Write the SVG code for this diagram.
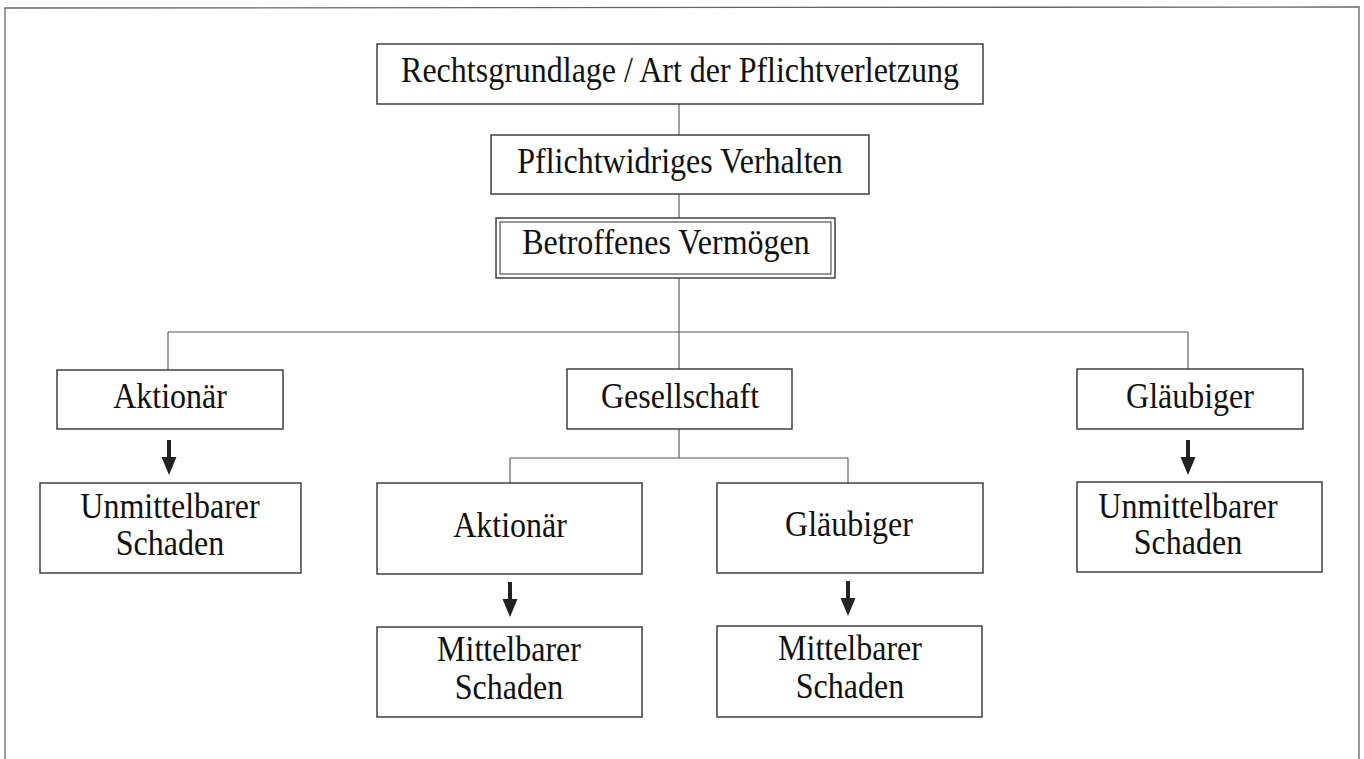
<svg xmlns="http://www.w3.org/2000/svg" width="1364" height="759" viewBox="0 0 1364 759">
<style>
.box{fill:#fff;stroke:#333;stroke-width:1.4}
.t{font-family:"Liberation Serif","Times New Roman",serif;font-size:32px;fill:#111;text-anchor:middle}
.ln{stroke:#555;stroke-width:1.1;fill:none}
.fr{stroke:#666;stroke-width:1.3;fill:none}
</style>
<defs>
<g id="arr"><rect x="-2" y="0" width="4" height="20" fill="#222"/><path d="M-7.5,17 L7.5,17 L0,35 Z" fill="#222"/></g>
</defs>
<rect width="1364" height="759" fill="#fff"/>
<path class="fr" d="M5,759 L5,8 L1359,7 L1359,759"/>
<g id="connectors">
<path class="ln" d="M679,104 V135 M679,194 V218 M679,278 V332 M168,332 H1188 M168,332 V370 M679,332 V369 M1188,332 V369 M679,429 V458 M510,458 H848 M510,458 V483 M848,458 V483"/>
<use href="#arr" x="169" y="440"/>
<use href="#arr" x="1188" y="440"/>
<use href="#arr" x="510" y="582"/>
<use href="#arr" x="848" y="581"/>
</g>
<g id="n-rechtsgrundlage"><rect class="box" x="377" y="44" width="606" height="60"/><text class="t" transform="translate(680,82) scale(1,1.1)">Rechtsgrundlage / Art der Pflichtverletzung</text></g>
<g id="n-pflichtwidrig"><rect class="box" x="491" y="135" width="378" height="59"/><text class="t" transform="translate(680,173) scale(1,1.1)">Pflichtwidriges Verhalten</text></g>
<g id="n-betroffen"><rect class="box" x="496" y="218" width="339" height="60" stroke-width="2.2"/><rect x="500" y="222" width="331" height="52" fill="none" stroke="#333" stroke-width="1"/><text class="t" transform="translate(666,254) scale(1,1.1)">Betroffenes Vermögen</text></g>
<g id="n-aktionaer1"><rect class="box" x="57" y="370" width="226" height="59"/><text class="t" transform="translate(170,408) scale(1,1.1)">Aktionär</text></g>
<g id="n-gesellschaft"><rect class="box" x="567" y="369" width="225" height="60"/><text class="t" transform="translate(680,408) scale(1,1.1)">Gesellschaft</text></g>
<g id="n-glaeubiger1"><rect class="box" x="1077" y="369" width="226" height="60"/><text class="t" transform="translate(1190,408) scale(1,1.1)">Gläubiger</text></g>
<g id="n-unmittelbar1"><rect class="box" x="40" y="483" width="261" height="90"/><text class="t" transform="translate(170,518) scale(1,1.1)">Unmittelbarer</text><text class="t" transform="translate(170,555) scale(1,1.1)">Schaden</text></g>
<g id="n-unmittelbar2"><rect class="box" x="1077" y="482" width="245" height="90"/><text class="t" transform="translate(1188,518) scale(1,1.1)">Unmittelbarer</text><text class="t" transform="translate(1188,554) scale(1,1.1)">Schaden</text></g>
<g id="n-aktionaer2"><rect class="box" x="377" y="483" width="265" height="91"/><text class="t" transform="translate(510,537) scale(1,1.1)">Aktionär</text></g>
<g id="n-glaeubiger2"><rect class="box" x="717" y="483" width="266" height="90"/><text class="t" transform="translate(849,536) scale(1,1.1)">Gläubiger</text></g>
<g id="n-mittelbar1"><rect class="box" x="377" y="627" width="265" height="90"/><text class="t" transform="translate(509,661) scale(1,1.1)">Mittelbarer</text><text class="t" transform="translate(509,699) scale(1,1.1)">Schaden</text></g>
<g id="n-mittelbar2"><rect class="box" x="717" y="626" width="265" height="91"/><text class="t" transform="translate(850,660) scale(1,1.1)">Mittelbarer</text><text class="t" transform="translate(850,698) scale(1,1.1)">Schaden</text></g>
</svg>
